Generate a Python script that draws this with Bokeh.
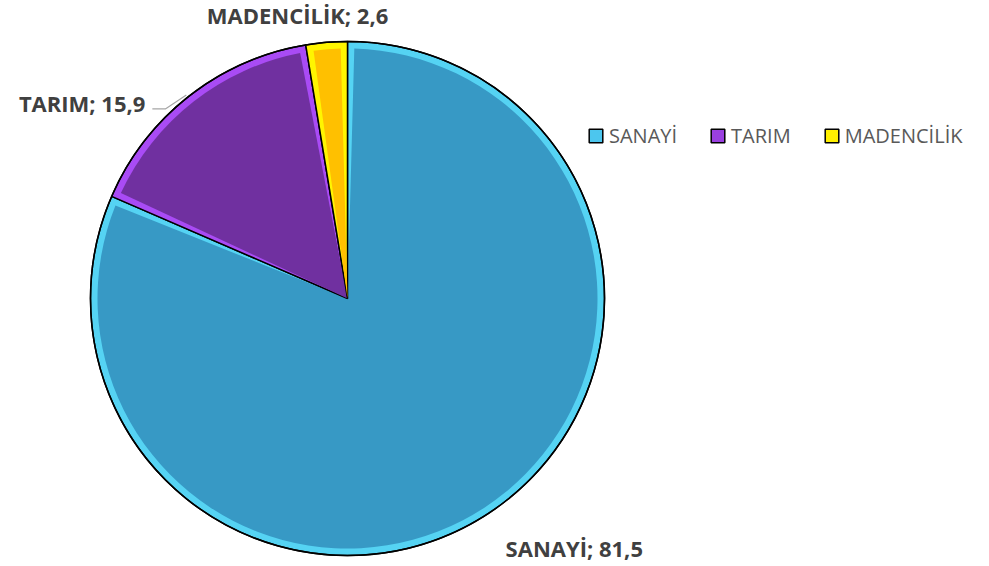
import math
from bokeh.plotting import figure
from bokeh.models import Legend, LegendItem, Range1d
from bokeh.core.properties import value
from bokeh.embed import file_html
from bokeh.resources import INLINE

# ---- data ----
categories = ["SANAYİ", "TARIM", "MADENCİLİK"]
values = [81.5, 15.9, 2.6]
value_labels = ["81,5", "15,9", "2,6"]

# ---- style ----
inner_colors = ["#3799C5", "#7030A0", "#FFC000"]
ring_colors = ["#55D3F3", "#A94BF5", "#FFF500"]
legend_colors = ["#4CC6EE", "#9A40E0", "#FFF000"]
# label offsets from the slice's outer mid point (pixels: dx, dy up)
label_dx = [17, -44, -29]
label_dy = [-35, -7, 27]
label_align = ["left", "right", "center"]

W, H = 989, 566
cx, cy, R = 347, 268, 257
bevel = 7

p = figure(width=W, height=H, output_backend="svg", toolbar_location=None,
           x_range=Range1d(0, W), y_range=Range1d(0, H), min_border=0)
p.axis.visible = False
p.grid.visible = False
p.outline_line_color = None
p.background_fill_color = "white"
p.border_fill_color = "white"

total = sum(values)
start = 90.0
for i, v in enumerate(values):
    sweep = v / total * 360.0
    a_end = start
    a_start = start - sweep
    p.wedge(x=[cx], y=[cy], radius=R,
            start_angle=[math.radians(a_start)], end_angle=[math.radians(a_end)],
            fill_color=ring_colors[i], line_color="black", line_width=1.5)
    inset = math.degrees(bevel / R)
    p.wedge(x=[cx], y=[cy], radius=R - bevel,
            start_angle=[math.radians(a_start + inset)], end_angle=[math.radians(a_end - inset)],
            fill_color=inner_colors[i], line_color=None)
    # data label
    mid = math.radians((a_start + a_end) / 2)
    ex, ey = cx + R * math.cos(mid), cy + R * math.sin(mid)
    lx, ly = ex + label_dx[i], ey + label_dy[i]
    p.text(x=[lx], y=[ly], text=[f"{categories[i]}; {value_labels[i]}"],
           text_font=value("Open Sans"), text_font_style="bold", text_font_size="22px",
           text_color="#404040", text_align=label_align[i], text_baseline="middle")
    if i == 1:
        p.line(x=[ex - 3, lx + 20, lx + 7], y=[ey + 1, ly - 6, ly - 6],
               line_color="#A6A6A6", line_width=1.2)
    start = a_start

# final black outline ring
p.circle(x=[cx], y=[cy], radius=R, fill_color=None, line_color="black", line_width=1.5)

# legend using proxy squares
items = []
for i, c in enumerate(categories):
    proxy = p.quad(left=[-100], right=[-99], bottom=[-100], top=[-99],
                   fill_color=legend_colors[i], line_color="black", line_width=1.5)
    items.append(LegendItem(label=c, renderers=[proxy]))
legend = Legend(items=items, orientation="horizontal", location=(587, 417),
                glyph_width=17, glyph_height=17, label_standoff=5, spacing=32,
                padding=0, margin=0, border_line_color=None, background_fill_alpha=0,
                label_text_font="Open Sans", label_text_font_size="20px",
                label_text_color="#595959", label_height=20)
p.add_layout(legend, "center")

open("out.html", "w").write(file_html(p, INLINE))
